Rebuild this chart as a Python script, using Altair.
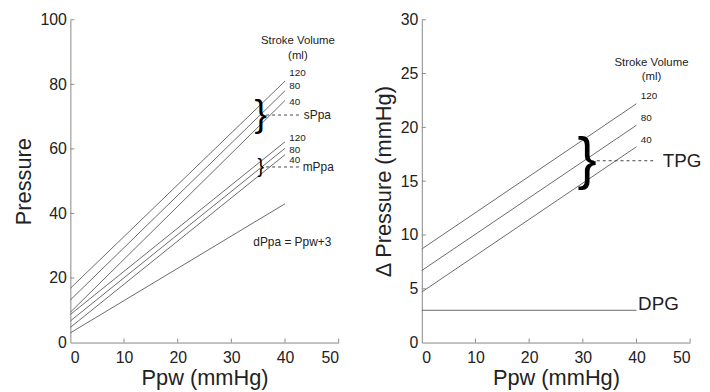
import altair as alt
import pandas as pd

# ---------------- data ----------------
ppw = [0, 40]
sv_levels = ["120", "80", "40"]

sppa_start = [16.8, 13.2, 9.4]
sppa_end = [81.0, 78.0, 75.0]
mppa_start = [8.7, 6.7, 4.7]
mppa_end = [62.2, 60.2, 58.2]
dppa_vals = [3.0, 43.0]

tpg_start = [8.7, 6.7, 4.7]
tpg_end = [22.2, 20.2, 18.2]
dpg_vals = [3.0, 3.0]

x_ticks = [0, 10, 20, 30, 40, 50]
left_y_ticks = [0, 20, 40, 60, 80, 100]
right_y_ticks = [0, 5, 10, 15, 20, 25, 30]

# annotation anchors (data units)
left_sv_x = 40.8
sppa_label_y = [83.4, 79.4, 74.6]
mppa_label_y = [63.3, 59.8, 56.6]
left_header = [("Stroke Volume", 42.4, 93.3), ("(ml)", 42.4, 88.9)]
sppa_brace = (35.5, 70.5)
mppa_brace = (35.5, 54.4)
sppa_dash = [36.5, 43.0]
mppa_dash = [36.5, 43.0]
side_labels_left = [("sPpa", 43.5, 70.5), ("mPpa", 43.3, 54.4)]
dppa_label = ("dPpa = Ppw+3", 34.1, 31.0)

right_sv_x = 40.8
tpg_label_y = [22.9, 20.9, 18.8]
right_header = [("Stroke Volume", 42.8, 26.0), ("(ml)", 42.8, 24.7)]
tpg_brace = (30.8, 16.9)
tpg_dash = [31.5, 43.2]
big_labels_right = [("TPG", 44.9, 16.9), ("DPG", 40.3, 3.6)]

FONT = "Liberation Sans"
LINE_COLOR = "#6a6a6a"
W, H = 271, 326

# ---------------- build tables ----------------
left_rows = []
for i, lev in enumerate(sv_levels):
    left_rows += [{"s": "s" + lev, "x": ppw[0], "y": sppa_start[i]},
                  {"s": "s" + lev, "x": ppw[1], "y": sppa_end[i]}]
    left_rows += [{"s": "m" + lev, "x": ppw[0], "y": mppa_start[i]},
                  {"s": "m" + lev, "x": ppw[1], "y": mppa_end[i]}]
left_rows += [{"s": "d", "x": ppw[0], "y": dppa_vals[0]},
              {"s": "d", "x": ppw[1], "y": dppa_vals[1]}]
left_df = pd.DataFrame(left_rows)

right_rows = []
for i, lev in enumerate(sv_levels):
    right_rows += [{"s": "t" + lev, "x": ppw[0], "y": tpg_start[i]},
                   {"s": "t" + lev, "x": ppw[1], "y": tpg_end[i]}]
right_rows += [{"s": "dpg", "x": ppw[0], "y": dpg_vals[0]},
               {"s": "dpg", "x": ppw[1], "y": dpg_vals[1]}]
right_df = pd.DataFrame(right_rows)


def text_layer(rows, xs, ys, size, align):
    return alt.Chart(pd.DataFrame(rows, columns=["t", "x", "y"])).mark_text(
        font=FONT, fontSize=size, align=align, baseline="middle", color="#222").encode(
        x=alt.X("x:Q", scale=xs), y=alt.Y("y:Q", scale=ys), text="t:N")


def panel(df, ydom, yticks, ytitle, sv_rows, header_rows, braces,
          dashes, mid_rows, mid_size, small_rows=None):
    xs = alt.Scale(domain=[0, 50], nice=False)
    ys = alt.Scale(domain=ydom, nice=False)
    xax = alt.Axis(values=x_ticks, title="Ppw (mmHg)", ticks=False, grid=False,
                   labelPadding=7, titlePadding=2)
    yax = alt.Axis(values=yticks, title=ytitle, ticks=False, grid=False,
                   labelPadding=4, titlePadding=5)

    lines = alt.Chart(df).mark_line(color=LINE_COLOR, strokeWidth=1).encode(
        x=alt.X("x:Q", scale=xs, axis=xax),
        y=alt.Y("y:Q", scale=ys, axis=yax),
        detail="s:N",
    )
    xt = alt.Chart(pd.DataFrame({"v": x_ticks[1:]})).mark_rule(
        color="#888", strokeWidth=1).encode(
        x=alt.X("v:Q", scale=xs), y=alt.value(H), y2=alt.value(H - 4))
    yt = alt.Chart(pd.DataFrame({"v": yticks[1:]})).mark_rule(
        color="#888", strokeWidth=1).encode(
        y=alt.Y("v:Q", scale=ys), x=alt.value(0), x2=alt.value(4))

    layers = [lines, xt, yt]

    dash_rows = [{"x": a, "x2": b, "y": yv} for (a, b, yv) in dashes]
    layers.append(alt.Chart(pd.DataFrame(dash_rows)).mark_rule(
        color="#444", strokeWidth=1, strokeDash=[3, 3]).encode(
        x=alt.X("x:Q", scale=xs), x2="x2:Q", y=alt.Y("y:Q", scale=ys)))

    for (bx, by, size) in braces:
        layers.append(alt.Chart(pd.DataFrame({"x": [bx], "y": [by], "t": ["}"]})).mark_text(
            font=FONT, fontSize=size, align="center", baseline="middle",
            color="#000").encode(
            x=alt.X("x:Q", scale=xs), y=alt.Y("y:Q", scale=ys), text="t:N"))

    layers.append(text_layer(sv_rows, xs, ys, 10, "left"))
    layers.append(text_layer(header_rows, xs, ys, 11.5, "center"))
    layers.append(text_layer(mid_rows, xs, ys, mid_size, "left"))
    if small_rows:
        layers.append(text_layer(small_rows, xs, ys, 12, "left"))
    return alt.layer(*layers).properties(width=W, height=H)


left_sv = [(lev, left_sv_x, yv) for lev, yv in zip(sv_levels, sppa_label_y)] + \
          [(lev, left_sv_x, yv) for lev, yv in zip(sv_levels, mppa_label_y)]
right_sv = [(lev, right_sv_x, yv) for lev, yv in zip(sv_levels, tpg_label_y)]

left = panel(
    left_df, [0, 100], left_y_ticks, "Pressure",
    left_sv, left_header,
    [(sppa_brace[0], sppa_brace[1], 38), (mppa_brace[0], mppa_brace[1], 20)],
    [(sppa_dash[0], sppa_dash[1], sppa_brace[1]), (mppa_dash[0], mppa_dash[1], mppa_brace[1])],
    side_labels_left, 12, small_rows=[dppa_label])

right = panel(
    right_df, [0, 30], right_y_ticks, "\u0394 Pressure (mmHg)",
    right_sv, right_header,
    [(tpg_brace[0], tpg_brace[1], 58)],
    [(tpg_dash[0], tpg_dash[1], tpg_brace[1])],
    big_labels_right, 19)

chart = alt.hconcat(left, right, spacing=33).properties(
    padding={"left": 4, "top": 2, "right": 0, "bottom": 0}
).configure_view(stroke=None).configure_axis(
    domainColor="#888", labelColor="#222", titleColor="#222",
    labelFont=FONT, titleFont=FONT, labelFontSize=16, titleFontSize=22,
    titleFontWeight="normal"
)

chart.save("out.html", embed_options={"renderer": "svg", "actions": False})
